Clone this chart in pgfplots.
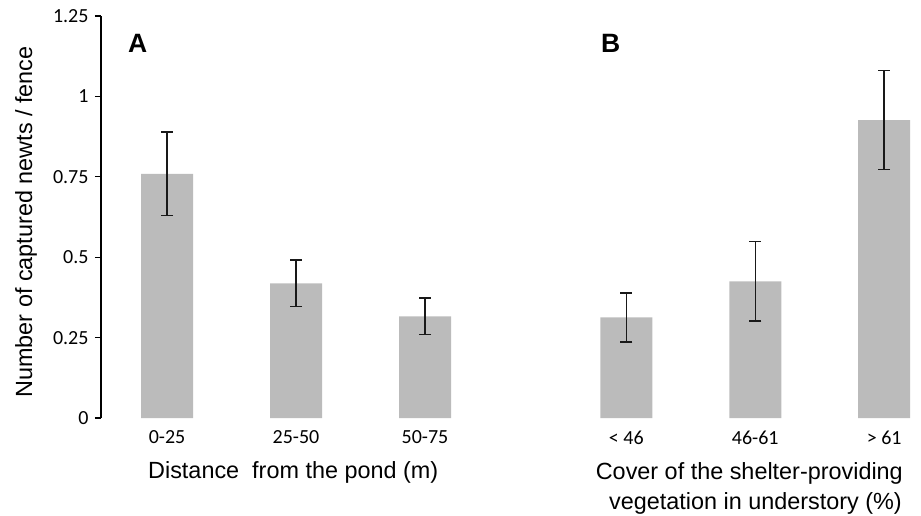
\documentclass[border=0pt]{standalone}
\usepackage{fontspec}
\setmainfont{Liberation Sans}
\newfontfamily\calibri{Carlito}
\usepackage{pgfplots}
\pgfplotsset{compat=1.18}
\definecolor{barGray}{RGB}{187,187,187}
\pgfplotstableread{
x y e
0 0.759 0.130
1 0.419 0.072
2 0.316 0.057
3.56 0.313 0.076
4.56 0.425 0.124
5.56 0.926 0.154
}\datatab
\usepackage{pgfplotstable}
\begin{document}
\begin{tikzpicture}[x=1pt,y=1pt]
\useasboundingbox (0,0) rectangle (921,515);
\begin{axis}[
  at={(101pt,97pt)}, anchor=south west,
  scale only axis, width=814.2pt, height=402pt,
  xmin=-0.512, xmax=5.8, ymin=0, ymax=1.25,
  axis x line=bottom, axis y line=left,
  axis line style={-},
  x axis line style={draw=none},
  y axis line style={line width=1.3pt, black},
  xtick={0,1,2,3.56,4.56,5.56},
  xticklabels={0-25,25-50,50-75,< 46,46-61,> 61},
  ytick={0,0.25,0.5,0.75,1,1.25},
  yticklabels={0,0.25,0.5,0.75,1,1.25},
  xtick style={draw=none},
  ytick style={line width=1.3pt, black},
  major tick length=6pt, tick align=outside,
  tick label style={font=\calibri\fontsize{20}{24}\selectfont, text=black},
  yticklabel style={font=\calibri\fontsize{20}{24}\selectfont, xshift=-3pt},
  xticklabel style={yshift=-3pt},
  clip=false,
]
\addplot[ybar, bar width=52pt, fill=barGray, draw=none,
  error bars/.cd, y dir=both, y explicit,
  error bar style={line width=1.5pt, black!90},
  error mark options={rotate=90, mark size=6pt, line width=1.5pt, black!90}]
  table[x=x, y=y, y error=e] {\datatab};
\end{axis}
\node[rotate=90, font=\fontsize{23.4}{28}\selectfont] at (26,293) {Number of captured newts / fence};
\node[anchor=base west, inner sep=0pt, font=\bfseries\fontsize{26.5}{30}\selectfont] at (128,462) {A};
\node[anchor=base west, inner sep=0pt, font=\bfseries\fontsize{26.5}{30}\selectfont] at (601,462.3) {B};
\node[anchor=base west, inner sep=0pt, font=\fontsize{23.4}{28}\selectfont] at (148,36.7) {Distance\ \ from the pond (m)};
\node[anchor=base east, inner sep=0pt, font=\fontsize{23.4}{28}\selectfont] at (903,36) {Cover of the shelter-providing};
\node[anchor=base east, inner sep=0pt, font=\fontsize{23.4}{28}\selectfont] at (902,6) {vegetation in understory (\%)};
\end{tikzpicture}
\end{document}
